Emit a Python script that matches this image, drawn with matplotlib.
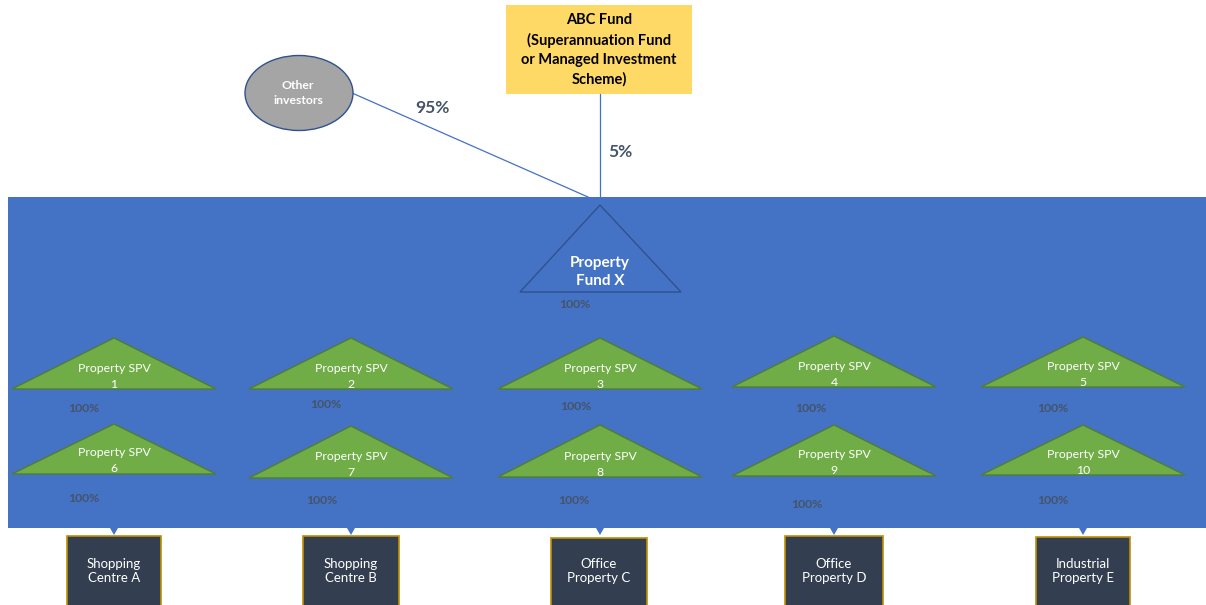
import matplotlib
matplotlib.use("Agg")
import matplotlib.pyplot as plt
from matplotlib.patches import Rectangle, Polygon, Ellipse

# ---------------- data ----------------
top_fund = "ABC Fund\n(Superannuation Fund\nor Managed Investment\nScheme)"
other_label = "Other\ninvestors"
main_fund = "Property\nFund X"
other_pct = 95
abc_pct = 5
fund_to_spv_pct = 100
spv_ids = [1, 2, 3, 4, 5, 6, 7, 8, 9, 10]
spv_to_asset_pct = [100, 100, 100, 100, 100, 100, 100, 100, 100, 100]
assets = ["Shopping\nCentre A", "Shopping\nCentre B", "Office\nProperty C",
          "Office\nProperty D", "Industrial\nProperty E"]

# ---------------- layout ----------------
W, H = 1206, 605
col_x = [114, 351, 600, 834, 1083]
row_apex = [[338, 338, 338, 336, 337], [424, 426, 425, 425, 425]]
row_base = [[389, 389, 389, 387, 387], [474, 478, 477, 476, 475]]
tri_half = 102
pct_pos = [[(84, 408), (326, 405), (576, 406), (811, 409), (1053, 409)],
           [(84, 498), (322, 500), (574, 500), (807, 505), (1053, 500)]]
box_ext = [(67, 161, 536), (303, 399, 536), (551, 647, 538), (785, 883, 536), (1036, 1130, 537)]

BLUE = "#4472C4"
GREEN = "#70AD47"
GREEN_EDGE = "#507E32"
DARK_BLUE = "#2F528F"
GRAY = "#A5A5A5"
YELLOW = "#FFD966"
NAVY = "#333F50"
GOLD = "#BF9000"
PCT = "#44546A"

plt.rcParams['font.family'] = ['Lato', 'DejaVu Sans']

fig = plt.figure(figsize=(W / 100, H / 100), dpi=100)
ax = fig.add_axes([0, 0, 1, 1])
ax.set_xlim(0, W)
ax.set_ylim(H, 0)
ax.axis("off")

# connectors from investors
ax.plot([352, 588], [93, 197], color=BLUE, lw=0.9, zorder=1)
ax.plot([600, 600], [94, 205], color=BLUE, lw=0.9, zorder=3)

# blue backdrop
ax.add_patch(Rectangle((8, 197), W - 8, 528 - 197, facecolor=BLUE, edgecolor="none", zorder=2))

# top fund box
ax.add_patch(Rectangle((506, 5), 186, 89, facecolor=YELLOW, edgecolor="none", zorder=2))
ax.text(599, 50, top_fund, ha="center", va="center", fontsize=10.5, fontweight="bold",
        color="black", linespacing=1.45, zorder=4)

# other investors ellipse
ax.add_patch(Ellipse((299, 93), 108, 75, facecolor=GRAY, edgecolor=DARK_BLUE, lw=1.0, zorder=2))
ax.text(298, 93, other_label, ha="center", va="center", fontsize=8.8, fontweight="bold",
        color="white", linespacing=1.4, zorder=4)

ax.text(432, 108, f"{other_pct}%", ha="center", va="center", fontsize=12.5,
        fontweight="bold", color=PCT, zorder=4)
ax.text(620, 152, f"{abc_pct}%", ha="center", va="center", fontsize=12.5,
        fontweight="bold", color=PCT, zorder=4)

# property fund triangle
ax.add_patch(Polygon([(600, 205), (520, 292), (681, 292)], closed=True, facecolor=BLUE,
                     edgecolor=DARK_BLUE, lw=1.0, zorder=3))
ax.text(600, 272, main_fund, ha="center", va="center", fontsize=11, fontweight="bold",
        color="white", linespacing=1.45, zorder=4)
ax.text(575, 304, f"{fund_to_spv_pct}%", ha="center", va="center", fontsize=8.8,
        fontweight="bold", color=PCT, zorder=4)

# SPV triangles
for i, sid in enumerate(spv_ids):
    r, c = divmod(i, 5)
    cx = col_x[c]
    ya, yb = row_apex[r][c], row_base[r][c]
    ax.add_patch(Polygon([(cx, ya), (cx - tri_half, yb), (cx + tri_half, yb)], closed=True,
                         facecolor=GREEN, edgecolor=GREEN_EDGE, lw=1.0, zorder=3))
    ax.text(cx, yb - 21, "Property SPV", ha="center", va="center", fontsize=8.8,
            color="white", zorder=4)
    ax.text(cx, yb - 5, str(sid), ha="center", va="center", fontsize=8.8,
            color="white", zorder=4)
    px, py = pct_pos[r][c]
    ax.text(px, py, f"{spv_to_asset_pct[i]}%", ha="center", va="center", fontsize=8.8,
            fontweight="bold", color=PCT, zorder=4)

# down arrows and asset boxes
for c, name in enumerate(assets):
    cx = col_x[c]
    ax.add_patch(Polygon([(cx - 4, 528), (cx + 4, 528), (cx, 535)], closed=True,
                         facecolor=BLUE, edgecolor="none", zorder=3))
    x0, x1, y0 = box_ext[c]
    ax.add_patch(Rectangle((x0, y0), x1 - x0, 605 - y0 + 5, facecolor=NAVY,
                           edgecolor=GOLD, lw=1.2, zorder=3))
    ax.text((x0 + x1) / 2, 571, name, ha="center", va="center", fontsize=9.5,
            color="white", linespacing=1.3, zorder=4)

fig.savefig("out.png", dpi=100)
